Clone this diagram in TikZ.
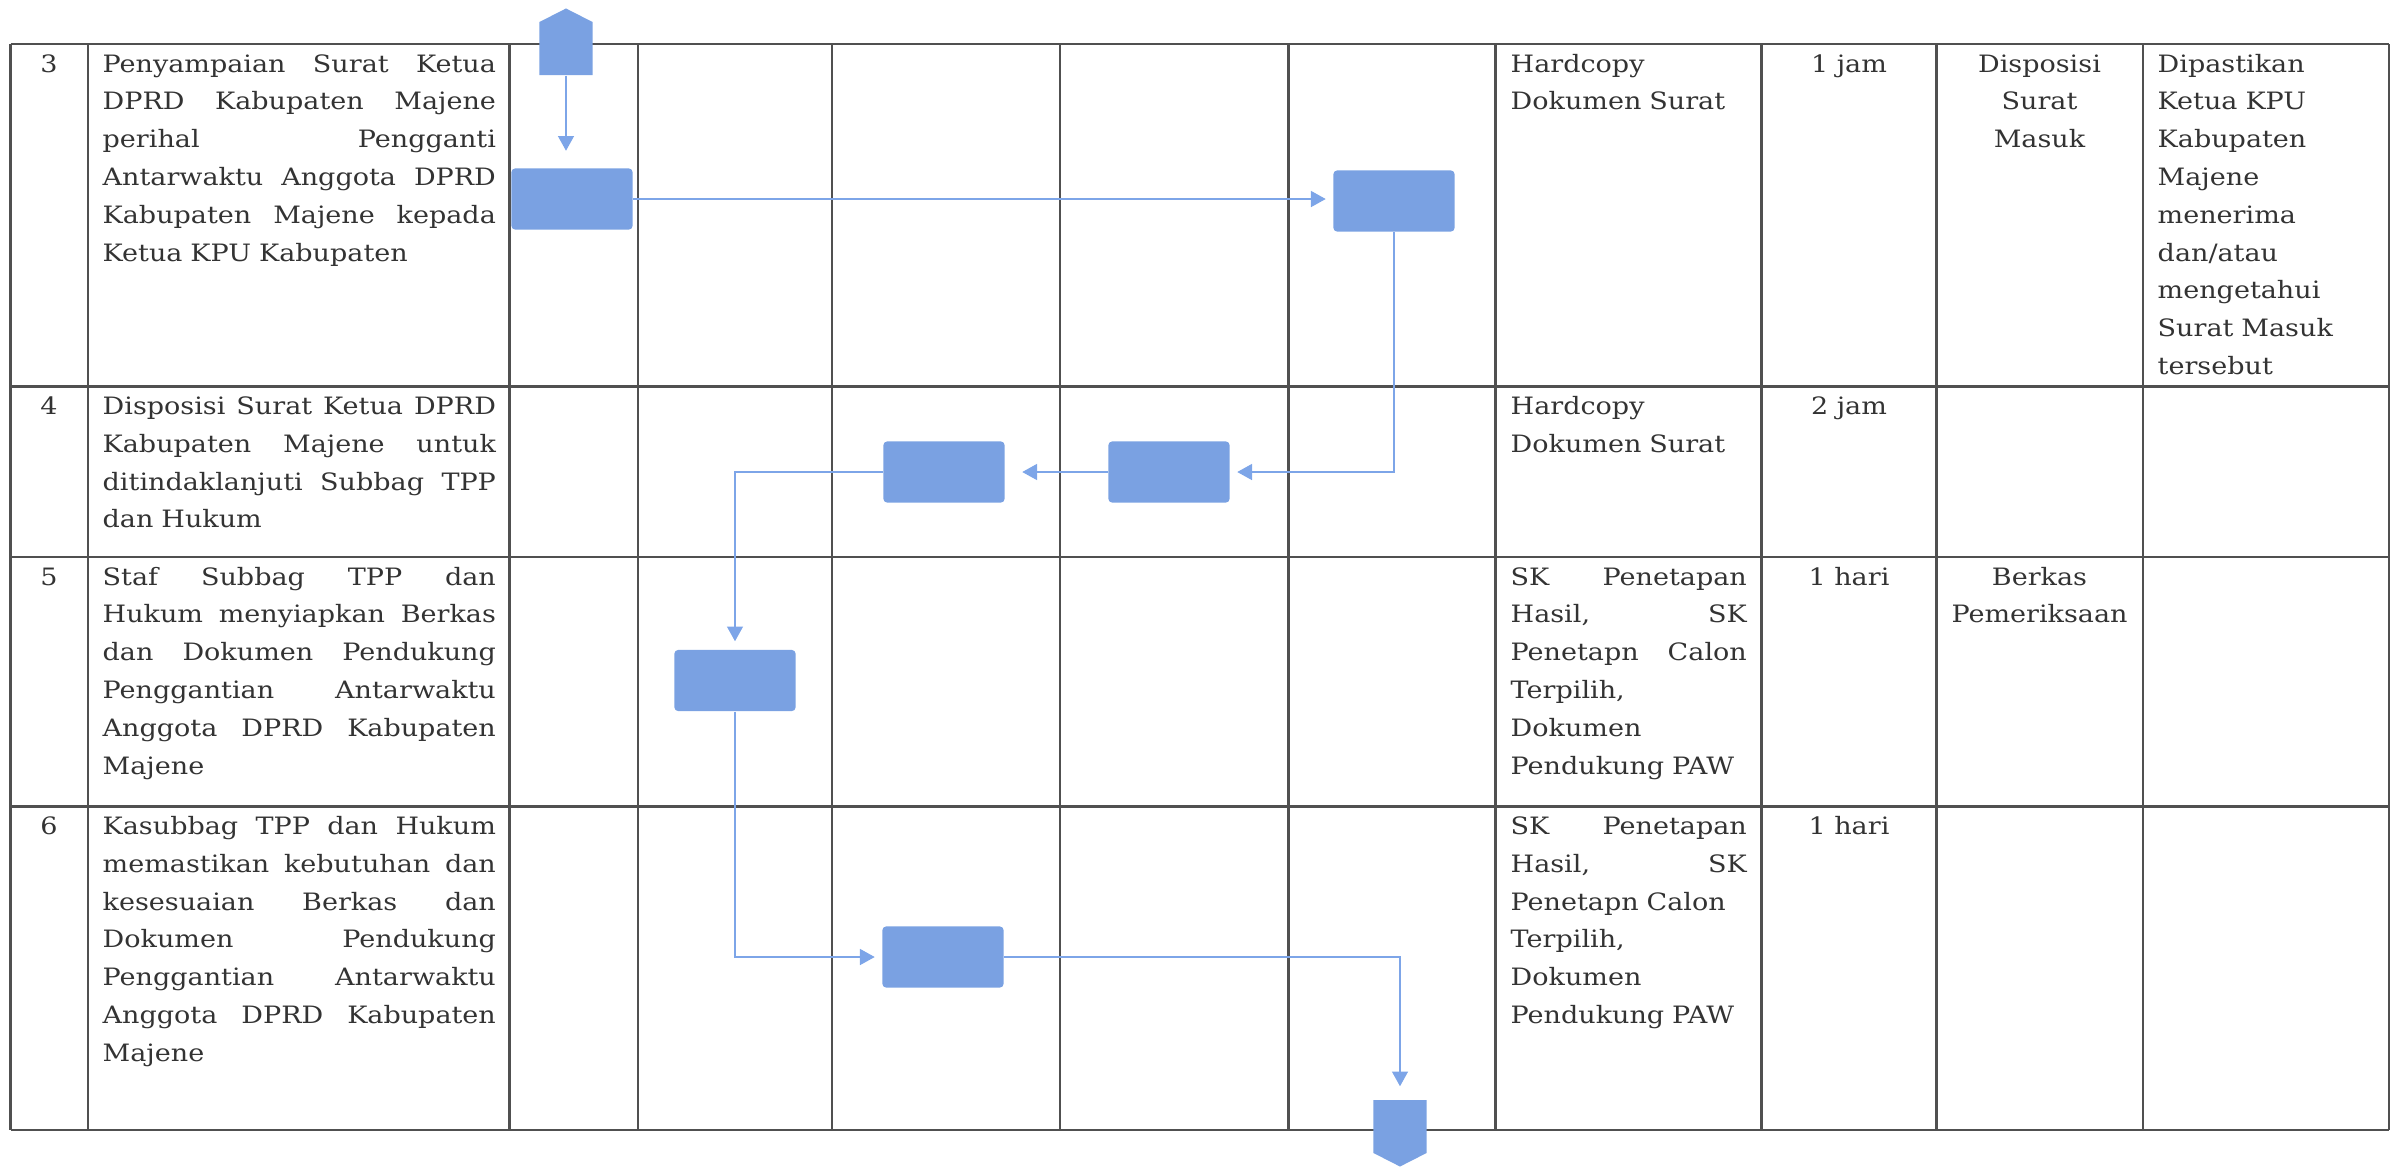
\documentclass[tikz,border=0pt]{standalone}
\usepackage{fontspec}
\setmainfont{DejaVu Serif}[FakeStretch=1.13]
\usetikzlibrary{arrows.meta,shapes.symbols}
\definecolor{boxblue}{RGB}{122,161,226}
\definecolor{lineblue}{RGB}{125,165,232}
\definecolor{rulegray}{RGB}{80,80,80}
\newcommand{\jl}[2][3.93cm]{\leavevmode\hbox to #1{\spaceskip=0.3em plus 1fil\relax #2}}

\begin{document}
\begin{tikzpicture}[
        x=0.01cm, y=-0.01cm,
        every node/.style={font=\fontsize{6.8pt}{10.75pt}\selectfont, text=black!80},
        stepbox/.style={rectangle, rounded corners=1pt, fill=boxblue,
            minimum width=1.21cm, minimum height=0.61cm, inner sep=0pt},
        offpage/.style={signal, signal to=#1, signal from=nowhere, fill=boxblue,
            inner sep=0pt, minimum width=0.53cm, minimum height=0.53cm,
            signal pointer angle=126},
        flow/.style={draw=lineblue, line width=0.55pt,
            -{Triangle[length=4.2pt,width=4.5pt]}},
        num/.style={anchor=base, inner sep=0pt},
        desc/.style={anchor=base west, inner sep=0pt, text width=3.93cm, align=left},
        dok/.style={anchor=base west, inner sep=0pt, text width=2.36cm, align=left},
        mid/.style={anchor=base, inner sep=0pt, text width=#1, align=center},
    ]
    \tikzstyle{rule}=[draw=rulegray, line width=0.6pt]
    \useasboundingbox (0,0) rectangle (2396,1166);

    \foreach \y in {44,386.5,557,806.5,1130}
        \draw[rule] (10.5,\y) -- (2389,\y);
    \foreach \x in {10.5,88,509.5,637.8,832,1060,1288.5,1495.5,1761.5,1936.5,2142.6,2389}
        \draw[rule] (\x,44) -- (\x,1130);

    % row 3
    \node[num] (no3) at (49,72) {3};
    \node[desc] (uraian3) at (102,72) {\jl{Penyampaian Surat Ketua}\\ \jl{DPRD Kabupaten Majene}\\
        \jl{perihal Pengganti}\\ \jl{Antarwaktu Anggota DPRD}\\ \jl{Kabupaten Majene kepada}\\
        Ketua KPU Kabupaten};
    \node[dok] (dok3) at (1510,72) {Hardcopy\\ Dokumen Surat};
    \node[num] (waktu3) at (1849,72) {1 jam};
    \node[mid=2.06cm] (output3) at (2039.5,72) {Disposisi\\ Surat\\ Masuk};
    \node[dok, text width=2.2cm] (ket3) at (2157,72) {Dipastikan\\ Ketua KPU\\ Kabupaten\\
        Majene\\ menerima\\ dan/atau\\ mengetahui\\ Surat Masuk\\ tersebut};

    % row 4
    \node[num] (no4) at (49,414.5) {4};
    \node[desc] (uraian4) at (102,414.5) {\jl{Disposisi Surat Ketua DPRD}\\ \jl{Kabupaten Majene untuk}\\
        \jl{ditindaklanjuti Subbag TPP}\\ dan Hukum};
    \node[dok] (dok4) at (1510,414.5) {Hardcopy\\ Dokumen Surat};
    \node[num] (waktu4) at (1849,414.5) {2 jam};

    % row 5
    \node[num] (no5) at (49,585) {5};
    \node[desc] (uraian5) at (102,585) {\jl{Staf Subbag TPP dan}\\ \jl{Hukum menyiapkan Berkas}\\
        \jl{dan Dokumen Pendukung}\\ \jl{Penggantian Antarwaktu}\\ \jl{Anggota DPRD Kabupaten}\\
        Majene};
    \node[dok] (dok5) at (1510,585) {\jl[2.36cm]{SK Penetapan}\\ \jl[2.36cm]{Hasil, SK}\\
        \jl[2.36cm]{Penetapn Calon}\\ Terpilih,\\ Dokumen\\ Pendukung PAW};
    \node[num] (waktu5) at (1849,585) {1 hari};
    \node[mid=2.06cm] (output5) at (2039.5,585) {Berkas\\ Pemeriksaan};

    % row 6
    \node[num] (no6) at (49,834.5) {6};
    \node[desc] (uraian6) at (102,834.5) {\jl{Kasubbag TPP dan Hukum}\\ \jl{memastikan kebutuhan dan}\\
        \jl{kesesuaian Berkas dan}\\ \jl{Dokumen Pendukung}\\ \jl{Penggantian Antarwaktu}\\
        \jl{Anggota DPRD Kabupaten}\\ Majene};
    \node[dok] (dok6) at (1510,834.5) {\jl[2.36cm]{SK Penetapan}\\ \jl[2.36cm]{Hasil, SK}\\
        Penetapn Calon\\ Terpilih,\\ Dokumen\\ Pendukung PAW};
    \node[num] (waktu6) at (1849,834.5) {1 hari};

    % flow
    \node[offpage=north] (mulai) at (566,48.5) {};
    \node[stepbox] (kirim) at (572,199) {};
    \node[stepbox] (terima) at (1394,201) {};
    \node[stepbox] (disposisi) at (1169,472) {};
    \node[stepbox] (teruskan) at (944,472) {};
    \node[stepbox] (siapkan) at (735,680.5) {};
    \node[stepbox] (periksa) at (943,957) {};
    \node[offpage=south] (selesai) at (1400,1126.5) {};

    \draw[flow, shorten >=0.17cm] (mulai.south) -- (mulai.south |- kirim.north);
    \draw[flow, shorten >=0.07cm] (kirim.east) -- (kirim.east -| terima.west);
    \draw[flow, shorten >=0.07cm] (terima.south) |- (disposisi.east);
    \draw[flow, shorten >=0.17cm] (disposisi.west) -- (teruskan.east);
    \draw[flow, shorten >=0.08cm] (teruskan.west) -| (siapkan.north);
    \draw[flow, shorten >=0.07cm] (siapkan.south) |- (periksa.west);
    \draw[flow, shorten >=0.13cm] (periksa.east) -| (selesai.north);
\end{tikzpicture}
\end{document}
